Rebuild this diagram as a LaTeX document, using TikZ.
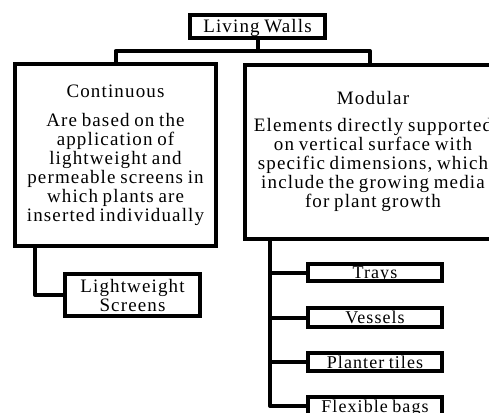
\documentclass[tikz,border=0pt]{standalone}
\usepackage{fontspec}
\setmainfont{Liberation Serif}[LetterSpace=6,WordSpace=0.8]
\begin{document}
\begin{tikzpicture}[x=1pt,y=-1pt,
  box/.style={draw=black,line width=4pt,fill=white,inner sep=0pt,align=center,
    font=\fontsize{19}{19}\selectfont},
  small/.style={box,minimum width=134pt,text height=14pt,text depth=2pt,
    font=\fontsize{18}{18}\selectfont},
  conn/.style={draw=black,line width=4pt,line join=round}]
\path[use as bounding box,clip] (0,0) rectangle (489,412);
\fill[white] (0,0) rectangle (489,412);
% top
\node[box,minimum width=135pt,minimum height=23pt,text height=13pt,text depth=1pt] (lw) at (257.5,26.5) {Living Walls};
\node[box,minimum width=201pt,minimum height=182pt] (cont) at (115.5,155.2)
  {Continuous\\[10pt]Are based on the\\application of\\lightweight and\\permeable screens in\\which plants are\\inserted individually};
\node[box,minimum width=257pt,minimum height=174pt] (mod) at (373,151.5)
  {Modular\\[8pt]Elements directly supported\\on vertical surface with\\specific dimensions, which\\include the growing media\\for plant growth};
% lower boxes
\node[box,minimum width=135pt,minimum height=42pt] (ls) at (132.5,295)
  {Lightweight\\Screens};
\node[small,minimum height=17pt] (trays) at (375,272.5) {Trays};
\node[small,minimum height=19pt] (vessels) at (375,317.5) {Vessels};
\node[small,minimum height=18pt] (tiles) at (375,362) {Planter tiles};
\node[small,minimum height=18pt] (bags) at (375,406) {Flexible bags};
% connectors
\coordinate (j) at (257.5,51);
\coordinate (mtop) at (370,51);
\coordinate (ctop) at (35,246);
\coordinate (trunk) at (270,238.5);
\draw[conn] (lw.south) -- (j);
\draw[conn] (cont.north) |- (j) -- (mtop) -- (mtop |- mod.north);
\draw[conn] (ctop) |- (ls.west);
\draw[conn] (trunk) |- (bags.west);
\draw[conn] (trunk |- trays.west) -- (trays.west);
\draw[conn] (trunk |- vessels.west) -- (vessels.west);
\draw[conn] (trunk |- tiles.west) -- (tiles.west);
\end{tikzpicture}
\end{document}
